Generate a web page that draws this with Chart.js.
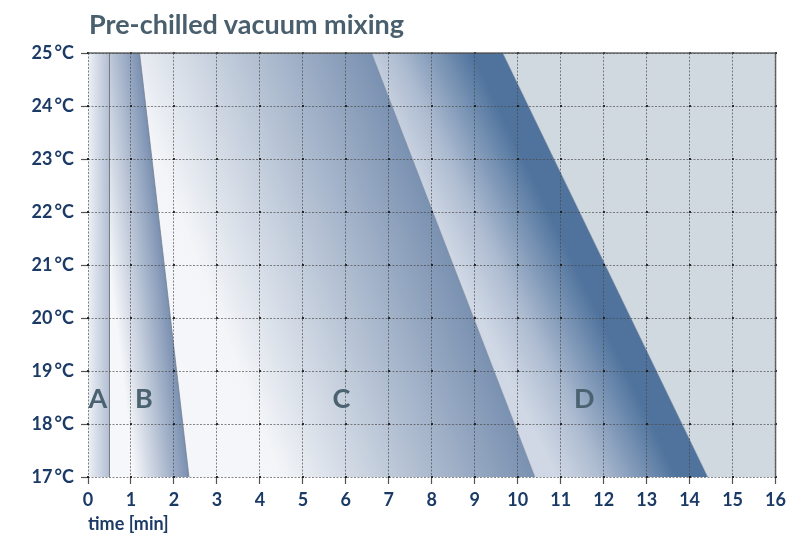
<!DOCTYPE html>
<html lang="en">
<head>
<meta charset="UTF-8">
<title>Pre-chilled vacuum mixing</title>
<script src="https://cdn.jsdelivr.net/npm/chart.js@4.4.0/dist/chart.umd.min.js"></script>
<style>
  body { margin: 0; background: #fff; }
  #wrap { position: relative; width: 791px; height: 535px; }
  #title { position: absolute; left: 89px; top: 10px; margin: 0; font: bold 27px/27px Lato, sans-serif; color: #4a5f6d; }
</style>
</head>
<body>
<div id="wrap">
  <h1 id="title">Pre-chilled vacuum mixing</h1>
  <canvas id="chart" width="791" height="535"></canvas>
</div>
<script>
// boundaries between the zones, as time [min] at 25 °C and at 17 °C
const boundaryNames = ['start', 'A', 'B', 'C', 'D', 'end'];
const timeAt25 = [0, 0.5, 1.2, 6.6, 9.65, 16];
const timeAt17 = [0, 0.5, 2.35, 10.4, 14.42, 16];

const timeTicks = [0, 1, 2, 3, 4, 5, 6, 7, 8, 9, 10, 11, 12, 13, 14, 15, 16];
const tempTicks = [17, 18, 19, 20, 21, 22, 23, 24, 25];

const regionLabels = ['A', 'B', 'C', 'D'];
const labelTime = [0.23, 1.3, 5.9, 11.55];
const labelTemp = 18.5;

// gradient stops for each zone (left edge -> right edge)
const zoneStops = [
    null,
    [[0, '#eef1f6'], [1, '#b2bed3']],
    [[0, '#f6f7fa'], [1, '#7a90b1']],
    [[0, '#f5f6f9'], [0.12, '#f3f5f8'], [1, '#7a91b1']],
    [[0, '#d0d8e5'], [0.3, '#aebcd1'], [0.8, '#4f739d'], [1, '#4f739d']],
    [[0, '#d0d9e0'], [1, '#d0d9e0']]
];
const boundaryColors = ['rgba(0,0,0,0)', 'rgba(100,100,100,0.8)', 'rgba(110,120,135,0.7)',
    'rgba(120,130,150,0.5)', 'rgba(120,130,150,0.5)', 'rgba(0,0,0,0)'];

function timeAt(i, t) {
    const f = (t - 17) / 8;
    return timeAt17[i] + (timeAt25[i] - timeAt17[i]) * f;
}

function zoneFill(chart, i) {
    const stops = zoneStops[i];
    if (!chart.chartArea) return stops[0][1];
    const xs = chart.scales.x, ys = chart.scales.y;
    const rx0 = xs.getPixelForValue(timeAt25[i]), ry0 = ys.getPixelForValue(25);
    const rx1 = xs.getPixelForValue(timeAt17[i]), ry1 = ys.getPixelForValue(17);
    const len = Math.hypot(rx1 - rx0, ry1 - ry0);
    const nx = (ry1 - ry0) / len, ny = -(rx1 - rx0) / len;
    const p0x = xs.getPixelForValue(timeAt(i - 1, 21)), p0y = ys.getPixelForValue(21);
    const pmx = xs.getPixelForValue(timeAt(i, 21));
    const d = Math.max(1, (pmx - p0x) * nx);
    const g = chart.ctx.createLinearGradient(p0x, p0y, p0x + nx * d, p0y + ny * d);
    stops.forEach(s => g.addColorStop(s[0], s[1]));
    return g;
}

const datasets = boundaryNames.map((name, i) => ({
    label: name,
    data: [{ x: timeAt17[i], y: 17 }, { x: timeAt25[i], y: 25 }],
    borderColor: boundaryColors[i],
    borderWidth: (i === 0 || i === 5) ? 0 : 1,
    pointRadius: 0,
    fill: i === 0 ? false : '-1',
    backgroundColor: i === 0 ? 'rgba(0,0,0,0)' : (ctx => zoneFill(ctx.chart, i))
}));

const regionLetters = {
    id: 'regionLetters',
    afterDraw(chart) {
        const { ctx, scales: { x, y }, chartArea: a } = chart;
        ctx.save();
        // little dots where the grid lines cross
        ctx.fillStyle = 'rgba(20,20,20,0.85)';
        timeTicks.forEach(tx => tempTicks.forEach(ty => {
            ctx.fillRect(Math.round(x.getPixelForValue(tx)) - 1, Math.round(y.getPixelForValue(ty)) - 1, 2, 2);
        }));
        ctx.font = 'bold 27px Lato';
        ctx.fillStyle = '#4b6270';
        ctx.textAlign = 'center';
        ctx.textBaseline = 'alphabetic';
        regionLabels.forEach((t, k) => {
            ctx.fillText(t, x.getPixelForValue(labelTime[k]), y.getPixelForValue(labelTemp) + 10);
        });
        // solid frame on top and right
        ctx.strokeStyle = 'rgba(80,80,80,0.85)';
        ctx.lineWidth = 1.5;
        ctx.beginPath();
        ctx.moveTo(a.left, a.top);
        ctx.lineTo(a.right, a.top);
        ctx.lineTo(a.right, a.bottom);
        ctx.stroke();
        ctx.restore();
    }
};

const gridStyle = {
    z: 1,
    color: 'rgba(70,70,70,0.65)',
    lineWidth: 1,
    tickLength: 7,
    tickColor: '#555',
    tickWidth: 1.2
};

new Chart(document.getElementById('chart'), {
    type: 'line',
    data: { datasets: datasets },
    plugins: [regionLetters],
    options: {
        indexAxis: 'y',
        responsive: false,
        animation: false,
        events: [],
        layout: { padding: { top: 53, right: 14, left: 0, bottom: 0 } },
        plugins: {
            legend: { display: false },
            tooltip: { enabled: false }
        },
        scales: {
            x: {
                type: 'linear',
                position: 'bottom',
                min: timeTicks[0],
                max: timeTicks[timeTicks.length - 1],
                afterBuildTicks: s => { s.ticks = timeTicks.map(v => ({ value: v })); },
                afterFit: s => { s.height = 58; },
                ticks: { color: '#1b3a66', font: { family: 'Lato', size: 18, weight: 'bold' }, padding: 5 },
                grid: gridStyle,
                border: { display: false, dash: [2, 1.5] },
                title: {
                    display: true, text: 'time [min]', align: 'start',
                    color: '#1b3a66', font: { family: 'Lato', size: 18, weight: 'bold' },
                    padding: { top: 4, bottom: 0 }
                }
            },
            y: {
                type: 'linear',
                min: tempTicks[0],
                max: tempTicks[tempTicks.length - 1],
                afterBuildTicks: s => { s.ticks = tempTicks.map(v => ({ value: v })); },
                afterFit: s => { s.width = 88; },
                ticks: {
                    color: '#1b3a66', font: { family: 'Lato', size: 18, weight: 'bold' }, padding: 7,
                    callback: v => v + '\u2009°C'
                },
                grid: gridStyle,
                border: { display: false, dash: [2, 1.5] }
            }
        }
    }
});
</script>
</body>
</html>
